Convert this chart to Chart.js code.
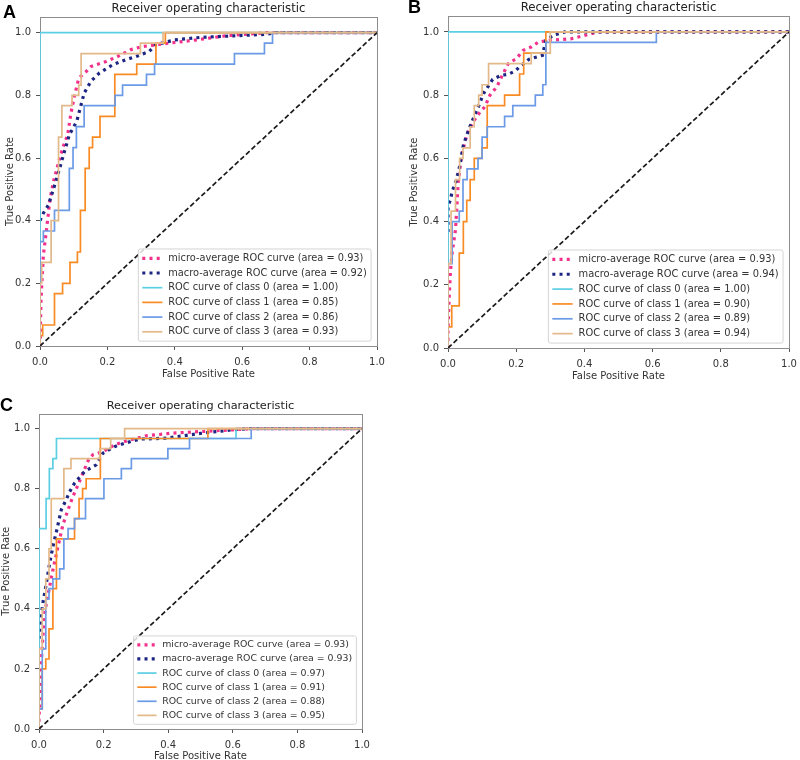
<!DOCTYPE html>
<html>
<head>
<meta charset="utf-8">
<script src="https://cdn.jsdelivr.net/npm/chart.js@4.4.1/dist/chart.umd.min.js"></script>
<style>
  body { margin: 0; background: #fff; }
  #page { position: relative; width: 800px; height: 760px; overflow: hidden; background: #fff; }
  #page canvas { position: absolute; }
  .tag { position: absolute; font: bold 18px "Liberation Sans", Arial, sans-serif; line-height: 18px; color: #000; }
</style>
</head>
<body>
<div id="page">
  <canvas id="rocA"></canvas>
  <canvas id="rocB"></canvas>
  <canvas id="rocC"></canvas>
  <div class="tag" style="left:3px;top:3px">A</div>
  <div class="tag" style="left:408px;top:-2px">B</div>
  <div class="tag" style="left:0px;top:396px">C</div>
</div>
<script>
// shared labels
const chartTitle = "Receiver operating characteristic"
const xTitle = "False Positive Rate"
const yTitle = "True Positive Rate"
const tickValues = [0, 0.2, 0.4, 0.6, 0.8, 1.0]
const seriesNames = [
  "micro-average ROC curve",
  "macro-average ROC curve",
  "ROC curve of class 0",
  "ROC curve of class 1",
  "ROC curve of class 2",
  "ROC curve of class 3",
]
const chanceLine = [[0, 0], [1, 1]]

// panel A  [fpr, tpr]
const areasA = [0.93, 0.92, 1.00, 0.85, 0.86, 0.93]
const aMicro = [[0,0],[0.003,0.15],[0.01,0.29],[0.018,0.36],[0.03,0.47],[0.04,0.525],[0.057,0.594],[0.07,0.64],[0.082,0.674],[0.092,0.744],[0.102,0.797],[0.115,0.855],[0.137,0.876],[0.151,0.892],[0.196,0.908],[0.23,0.924],[0.27,0.946],[0.305,0.956],[0.37,0.965],[0.45,0.975],[0.55,0.99],[0.67,1],[1,1]]
const aMacro = [[0,0.4],[0.01,0.424],[0.025,0.45],[0.047,0.525],[0.067,0.6],[0.087,0.674],[0.109,0.717],[0.122,0.77],[0.131,0.807],[0.151,0.845],[0.176,0.871],[0.216,0.898],[0.255,0.914],[0.285,0.924],[0.324,0.94],[0.344,0.962],[0.4,0.977],[0.475,0.985],[0.574,0.99],[0.673,0.995],[0.7,1],[1,1]]
const aClass0 = [[0,0],[0,1],[1,1]]
const aClass1 = [[0,0],[0,0.033],[0.008,0.067],[0.043,0.167],[0.067,0.2],[0.089,0.267],[0.111,0.3],[0.12,0.433],[0.134,0.567],[0.146,0.633],[0.156,0.667],[0.178,0.733],[0.222,0.867],[0.287,0.9],[0.344,0.967],[0.372,1],[1,1]]
const aClass2 = [[0,0],[0,0.333],[0.01,0.367],[0.043,0.433],[0.087,0.567],[0.098,0.633],[0.108,0.7],[0.131,0.767],[0.223,0.8],[0.245,0.833],[0.316,0.867],[0.34,0.9],[0.577,0.933],[0.666,0.967],[0.69,1],[1,1]]
const aClass3 = [[0,0],[0,0.2],[0.005,0.267],[0.033,0.4],[0.055,0.667],[0.065,0.767],[0.095,0.8],[0.115,0.833],[0.122,0.933],[0.298,0.967],[0.365,1],[1,1]]

// panel B
const areasB = [0.93, 0.94, 1.00, 0.90, 0.89, 0.94]
const bMicro = [[0,0],[0,0.05],[0.003,0.15],[0.007,0.24],[0.012,0.3],[0.022,0.374],[0.026,0.447],[0.03,0.526],[0.04,0.61],[0.055,0.673],[0.074,0.716],[0.094,0.747],[0.108,0.763],[0.123,0.8],[0.143,0.826],[0.157,0.858],[0.177,0.9],[0.201,0.916],[0.221,0.942],[0.245,0.953],[0.265,0.968],[0.3,0.974],[0.36,0.978],[0.39,0.986],[0.44,1],[1,1]]
const bMacro = [[0,0.367],[0,0.45],[0.007,0.468],[0.012,0.495],[0.023,0.526],[0.035,0.579],[0.045,0.642],[0.06,0.689],[0.074,0.726],[0.089,0.763],[0.104,0.805],[0.131,0.85],[0.157,0.863],[0.177,0.866],[0.196,0.876],[0.216,0.895],[0.238,0.914],[0.277,0.926],[0.287,0.974],[0.31,0.99],[0.343,1],[1,1]]
const bClass0 = [[0,0],[0,1],[1,1]]
const bClass1 = [[0,0],[0,0.067],[0.011,0.133],[0.033,0.3],[0.045,0.4],[0.055,0.467],[0.065,0.533],[0.077,0.6],[0.1,0.633],[0.115,0.767],[0.166,0.8],[0.21,0.867],[0.222,0.933],[0.287,1],[1,1]]
const bClass2 = [[0,0],[0,0.267],[0.012,0.4],[0.033,0.433],[0.044,0.533],[0.056,0.567],[0.088,0.6],[0.1,0.667],[0.115,0.7],[0.166,0.733],[0.19,0.767],[0.256,0.8],[0.278,0.833],[0.287,0.967],[0.611,1],[1,1]]
const bClass3 = [[0,0],[0,0.267],[0.009,0.433],[0.022,0.533],[0.034,0.6],[0.044,0.633],[0.065,0.7],[0.077,0.767],[0.09,0.8],[0.1,0.833],[0.119,0.9],[0.244,0.933],[0.3,1],[1,1]]

// panel C
const areasC = [0.93, 0.93, 0.97, 0.91, 0.88, 0.95]
const cMicro = [[0,0],[0,0.04],[0.004,0.13],[0.007,0.22],[0.012,0.308],[0.018,0.386],[0.023,0.419],[0.031,0.463],[0.041,0.519],[0.052,0.574],[0.074,0.68],[0.09,0.73],[0.105,0.774],[0.121,0.813],[0.136,0.852],[0.154,0.898],[0.167,0.913],[0.198,0.923],[0.234,0.946],[0.275,0.96],[0.332,0.976],[0.414,0.985],[0.5,0.99],[0.6,0.996],[0.662,1],[1,1]]
const cMacro = [[0,0.3],[0.004,0.353],[0.012,0.419],[0.023,0.486],[0.033,0.552],[0.043,0.607],[0.054,0.657],[0.069,0.73],[0.085,0.765],[0.095,0.79],[0.11,0.818],[0.141,0.857],[0.177,0.879],[0.198,0.918],[0.234,0.94],[0.265,0.951],[0.311,0.965],[0.394,0.968],[0.5,0.984],[0.6,0.996],[0.652,1],[1,1]]
const cClass0 = [[0,0],[0,0.667],[0.022,0.767],[0.032,0.867],[0.043,0.9],[0.054,0.967],[0.61,1],[1,1]]
const cClass1 = [[0,0],[0,0.067],[0.01,0.2],[0.021,0.233],[0.031,0.333],[0.043,0.467],[0.054,0.633],[0.11,0.7],[0.124,0.767],[0.135,0.8],[0.146,0.833],[0.19,0.967],[0.523,1],[1,1]]
const cClass2 = [[0,0],[0,0.067],[0.01,0.267],[0.021,0.433],[0.031,0.467],[0.043,0.5],[0.064,0.533],[0.077,0.633],[0.09,0.667],[0.11,0.7],[0.144,0.767],[0.201,0.833],[0.255,0.867],[0.286,0.9],[0.399,0.933],[0.466,0.967],[0.657,1],[1,1]]
const cClass3 = [[0,0],[0,0.267],[0.01,0.4],[0.021,0.5],[0.031,0.6],[0.038,0.767],[0.077,0.867],[0.099,0.9],[0.188,0.933],[0.222,0.967],[0.265,1],[1,1]]

// styles
const seriesColors = ["#f2318b", "#1c2581", "#5ccfe3", "#f98b25", "#6b9ae6", "#e3b98a"]
const fontFamily = "'DejaVu Sans', 'Liberation Sans', sans-serif"
const textColor = "#333"
const yAxisW = 40

const panels = [
  { id: "rocA", left: 40, top: 17, w: 337, h: 329, xAxisH: 37, titleSize: 11.7, legendSize: 9.8, yTitlePad: 4,
    series: [aMicro, aMacro, aClass0, aClass1, aClass2, aClass3], areas: areasA },
  { id: "rocB", left: 448, top: 16, w: 341, h: 332, xAxisH: 37, titleSize: 11.8, legendSize: 9.9, yTitlePad: 0,
    series: [bMicro, bMacro, bClass0, bClass1, bClass2, bClass3], areas: areasB },
  { id: "rocC", left: 39, top: 414, w: 323, h: 315, xAxisH: 36, titleSize: 11.3, legendSize: 9.4, yTitlePad: 1.5,
    series: [cMicro, cMacro, cClass0, cClass1, cClass2, cClass3], areas: areasC },
]

// axes frame, drawn under the curves
const framePlugin = {
  id: "frame",
  beforeDatasetsDraw(chart) {
    const { ctx, chartArea: a } = chart
    ctx.save()
    ctx.strokeStyle = "#8d8d8d"
    ctx.lineWidth = 1
    const l = Math.round(a.left) + 0.5, t = Math.round(a.top) + 0.5
    ctx.strokeRect(l, t, Math.round(a.right) - Math.round(a.left), Math.round(a.bottom) - Math.round(a.top))
    ctx.restore()
  }
}

// matplotlib-like legend in the lower right corner of the plot
const insideLegend = {
  id: "insideLegend",
  afterDatasetsDraw(chart, args, opts) {
    const { ctx, chartArea } = chart
    const fs = opts.fontSize
    const items = chart.data.datasets.filter(d => d.label)
    ctx.save()
    ctx.font = `${fs}px ${fontFamily}`
    const textW = Math.max(...items.map(d => ctx.measureText(d.label).width))
    const rowH = fs * 1.5
    const padV = fs * 0.2
    const w = fs * 3.05 + textW + fs * 0.45
    const h = items.length * rowH + padV * 2
    const x = chartArea.right - fs * 0.6 - w
    const y = chartArea.bottom - fs * 0.5 - h
    ctx.beginPath()
    ctx.roundRect(x, y, w, h, 2)
    ctx.fillStyle = "rgba(255,255,255,0.82)"
    ctx.fill()
    ctx.strokeStyle = "#d4d4d4"
    ctx.lineWidth = 1
    ctx.stroke()
    items.forEach((d, i) => {
      const cy = y + padV + rowH * (i + 0.5)
      ctx.beginPath()
      ctx.strokeStyle = d.borderColor
      ctx.lineWidth = d.borderWidth
      ctx.setLineDash(d.borderDash || [])
      ctx.moveTo(x + fs * 0.4, cy)
      ctx.lineTo(x + fs * 2.45, cy)
      ctx.stroke()
      ctx.setLineDash([])
      ctx.fillStyle = textColor
      ctx.textBaseline = "middle"
      ctx.textAlign = "left"
      ctx.fillText(d.label, x + fs * 3.05, cy)
    })
    ctx.restore()
  }
}

function buildPanel(p) {
  const titleH = p.titleSize * 1.2 + 4
  const canvas = document.getElementById(p.id)
  canvas.width = p.w + yAxisW * 2
  canvas.height = Math.round(titleH + p.h + p.xAxisH)
  canvas.style.left = (p.left - yAxisW) + "px"
  canvas.style.top = Math.round(p.top - titleH) + "px"

  const datasets = p.series.map((pts, i) => ({
    label: `${seriesNames[i]} (area = ${p.areas[i].toFixed(2)})`,
    data: pts.map(([x, y]) => ({ x: x, y: y })),
    borderColor: seriesColors[i],
    borderWidth: i < 2 ? 3.2 : 1.7,
    borderDash: i < 2 ? [3, 4.2] : [],
    stepped: i < 2 ? false : "before",
    showLine: true,
    pointRadius: 0,
    fill: false,
    order: 10 - i,
  }))
  datasets.push({
    data: chanceLine.map(([x, y]) => ({ x: x, y: y })),
    borderColor: "#1a1a1a",
    borderWidth: 1.7,
    borderDash: [5, 2.6],
    showLine: true,
    pointRadius: 0,
    fill: false,
    order: 0,
  })

  const tickFont = { family: fontFamily, size: 10 }
  new Chart(canvas, {
    type: "scatter",
    data: { datasets: datasets },
    options: {
      responsive: false,
      animation: false,
      devicePixelRatio: 1,
      layout: { padding: { left: 0, right: yAxisW, top: 0, bottom: 0 } },
      plugins: {
        legend: { display: false },
        tooltip: { enabled: false },
        title: {
          display: true,
          fullSize: false,
          text: chartTitle,
          color: "#222",
          font: { family: fontFamily, size: p.titleSize, weight: "normal", lineHeight: 1.2 },
          padding: { top: 3, bottom: 1 },
        },
        insideLegend: { fontSize: p.legendSize },
      },
      scales: {
        x: {
          type: "linear",
          min: 0,
          max: 1,
          afterBuildTicks: s => { s.ticks = tickValues.map(v => ({ value: v })) },
          afterFit: s => { s.height = p.xAxisH },
          ticks: { callback: v => v.toFixed(1), color: textColor, font: tickFont, padding: 6, maxRotation: 0, autoSkip: false },
          grid: { drawOnChartArea: false, drawTicks: true, tickLength: 4, tickColor: "#555" },
          border: { display: false },
          title: { display: true, text: xTitle, color: textColor, font: tickFont, padding: { top: 0, bottom: 3 } },
        },
        y: {
          type: "linear",
          min: 0,
          max: 1.05,
          afterBuildTicks: s => { s.ticks = tickValues.map(v => ({ value: v })) },
          afterFit: s => { s.width = yAxisW },
          ticks: { callback: v => v.toFixed(1), color: textColor, font: tickFont, padding: 5, autoSkip: false },
          grid: { drawOnChartArea: false, drawTicks: true, tickLength: 4, tickColor: "#555" },
          border: { display: false },
          title: { display: true, text: yTitle, color: textColor, font: tickFont, padding: { top: p.yTitlePad, bottom: 0 } },
        },
      },
    },
    plugins: [framePlugin, insideLegend],
  })
}

panels.forEach(buildPanel)
</script>
</body>
</html>
